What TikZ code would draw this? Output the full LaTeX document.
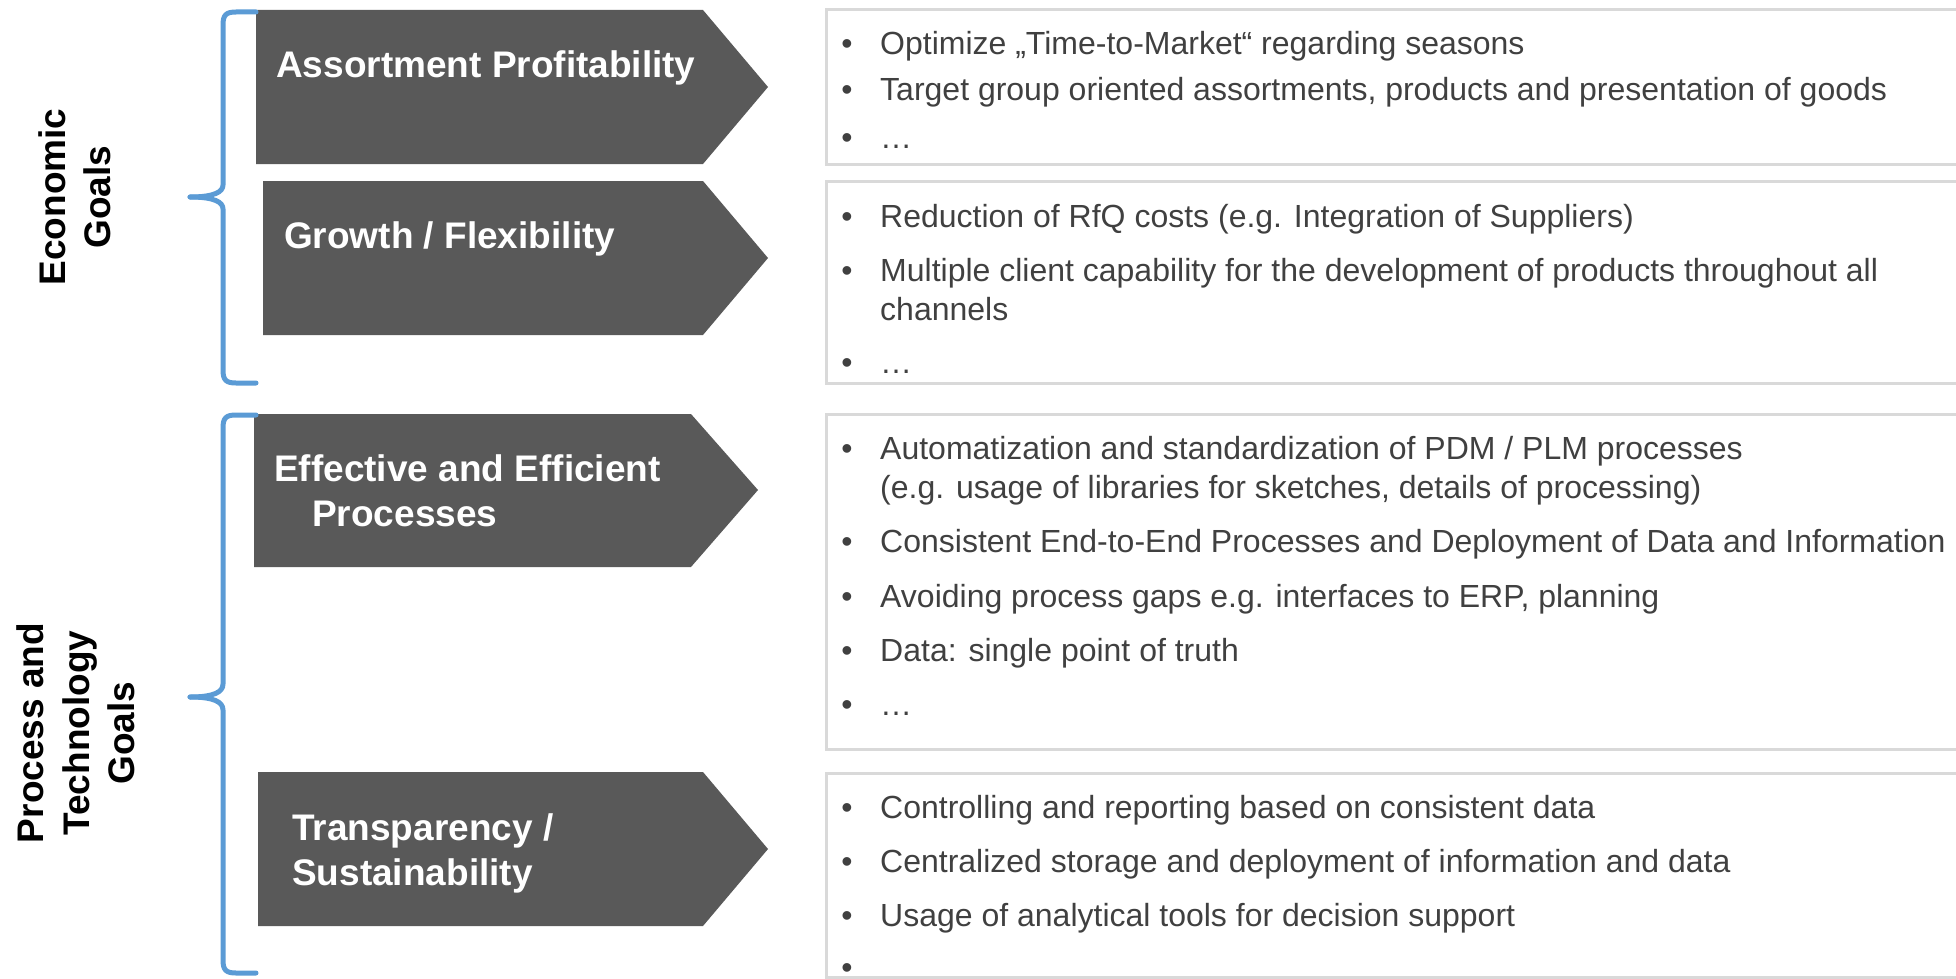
\documentclass[tikz,border=0pt]{standalone}
\usepackage{fontspec}
\setmainfont{Liberation Sans}
\usetikzlibrary{positioning}

\definecolor{arrowgray}{HTML}{595959}
\definecolor{framegray}{HTML}{D9D9D9}
\definecolor{textgray}{HTML}{404040}
\definecolor{braceblue}{HTML}{5B9BD5}

\begin{document}
\begin{tikzpicture}[x=1pt, y=-1pt,
  goalbox/.style={fill=arrowgray},
  goaltext/.style={anchor=base west, inner sep=0pt, text=white, align=left,
    font=\fontsize{37}{44.5}\selectfont\bfseries},
  sidelabel/.style={rotate=90, inner sep=0pt, align=center,
    font=\fontsize{37}{45.5}\selectfont\bfseries},
  itembox/.style={draw=framegray, line width=3pt},
  item/.style={anchor=base west, inner sep=0pt, text=textgray, align=left,
    font=\fontsize{32}{38.5}\selectfont},
  dot/.style={anchor=base, inner sep=0pt, text=textgray, xshift=-33pt,
    font=\fontsize{32}{38.5}\selectfont},
  bracket/.style={draw=braceblue, line width=5pt, line cap=round}]
	\useasboundingbox (0,0) rectangle (1956,979);
	
	% goal arrows
	\fill[goalbox] (256,10) -- (703,10) -- (768,87) -- (703,164) -- (256,164) -- cycle;
	\fill[goalbox] (263,181) -- (703,181) -- (768,258) -- (703,335) -- (263,335) -- cycle;
	\fill[goalbox] (254,414) -- (691,414) -- (758,490) -- (691,567) -- (254,567) -- cycle;
	\fill[goalbox] (258,772) -- (703,772) -- (768,849) -- (703,926) -- (258,926) -- cycle;
	
	% multi-line texts sit on the baseline of their last line
	\node[goaltext] (ap) at (276,78) {Assortment Profitability};
	\node[goaltext] (gf) at (284,248) {Growth / Flexibility};
	\node[goaltext] (ee) at (274,526) {Effective and Efficient\\\hspace*{38pt}Processes};
	\node[goaltext] (ts) at (292,885) {Transparency /\\Sustainability};
	
	% brackets
	\draw[bracket] (256,12) -- (236,12) .. controls (226,12) and (223,15) .. (223,25) -- (223,185)
		.. controls (223,192) and (214,197) .. (190,197);
	\draw[bracket] (190,197) .. controls (214,197) and (223,202) .. (223,209) -- (223,370)
		.. controls (223,380) and (226,383) .. (236,383) -- (256,383);
	\draw[bracket] (256,415) -- (236,415) .. controls (226,415) and (223,418) .. (223,428) -- (223,684)
		.. controls (223,692) and (214,697) .. (190,697);
	\draw[bracket] (190,697) .. controls (214,697) and (223,702) .. (223,710) -- (223,960)
		.. controls (223,970) and (226,973) .. (236,973) -- (256,973);
	
	\node[sidelabel] (eco) at (75,197) {Economic\\Goals};
	\node[sidelabel] (pt) at (76,733) {Process and\\Technology\\Goals};
	
	% item boxes
	\draw[itembox] (826,10) rectangle (1975,164);
	\draw[itembox] (826,181) rectangle (1975,383);
	\draw[itembox] (826,414) rectangle (1975,749);
	\draw[itembox] (826,773) rectangle (1975,977);
	
	\node[item] (a1) at (880,55) {Optimize „Time-to-Market“ regarding seasons};
	\node[item] (a2) at (880,101) {Target group oriented assortments, products and presentation of goods};
	\node[item] (a3) at (880,148) {…};
	\node[dot] at (a1.base west) {•};
	\node[dot] at (a2.base west) {•};
	\node[dot] at (a3.base west) {•};
	
	\node[item] (b1) at (880,227) {Reduction of RfQ costs (e.g. Integration of Suppliers)};
	\node[item] (b2) at (880,320) {Multiple client capability for the development of products throughout all\\channels};
	\node[item] (b3) at (880,373) {…};
	\node[dot] at (b1.base west) {•};
	\node[dot, yshift=38.5pt] at (b2.base west) {•};
	\node[dot] at (b3.base west) {•};
	
	\node[item] (c1) at (880,498) {Automatization and standardization of PDM / PLM processes\\(e.g. usage of libraries for sketches, details of processing)};
	\node[item] (c2) at (880,552) {Consistent End-to-End Processes and Deployment of Data and Information};
	\node[item] (c3) at (880,607) {Avoiding process gaps e.g. interfaces to ERP, planning};
	\node[item] (c4) at (880,661) {Data: single point of truth};
	\node[item] (c5) at (880,715) {…};
	\node[dot, yshift=38.5pt] at (c1.base west) {•};
	\node[dot] at (c2.base west) {•};
	\node[dot] at (c3.base west) {•};
	\node[dot] at (c4.base west) {•};
	\node[dot] at (c5.base west) {•};
	
	\node[item] (d1) at (880,818) {Controlling and reporting based on consistent data};
	\node[item] (d2) at (880,872) {Centralized storage and deployment of information and data};
	\node[item] (d3) at (880,926) {Usage of analytical tools for decision support};
	\node[dot] at (d1.base west) {•};
	\node[dot] at (d2.base west) {•};
	\node[dot] at (d3.base west) {•};
	\node[dot] (d4) at (880,978) {•};
\end{tikzpicture}
\end{document}
